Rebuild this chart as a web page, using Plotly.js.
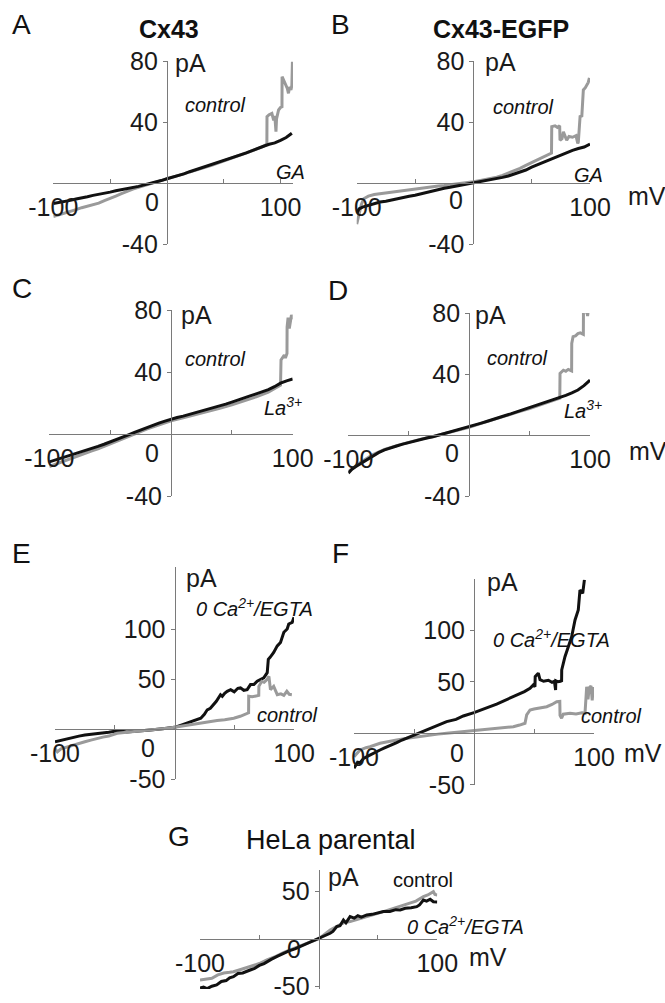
<!DOCTYPE html>
<html><head><meta charset="utf-8">
<script src="https://cdn.plot.ly/plotly-3.0.1.min.js"></script>
<style>html,body{margin:0;padding:0;background:#fff}#chart{width:665px;height:1003px}</style>
</head><body><div id="chart"></div>
<script>
// ---------- DATA (mV, pA) ----------
// Panel A: Cx43, control vs GA
const vA_ctrl=[-100,-95,-90,-85,-80,-75,-70,-65,-60,-55,-50,-45,-40,-35,-30,-25,-20,-15,-10,-5,0,10,20,30,40,50,60,70,80,85,88,88.1,90,92.4,94,95,96,96.5,98.3,100,101.3,101.4,103,104.2,106,107,108,109.2,110,110.5];
const iA_ctrl=[-22,-21,-20,-18.8,-17.5,-16.2,-15.3,-14.1,-13.2,-11.5,-10.2,-8.6,-7,-5.3,-4,-2.9,-1.8,-0.8,0.3,1.3,2.6,4.6,7,9.4,11.8,14.4,16.8,19.5,22.5,24,25.5,43.5,44.8,45.7,41,44,33.6,42,47.9,49.5,50,69.7,67,65.4,62,58.8,63,61,64,79.5];
const vA_ga=[-100,-95,-90,-85,-80,-75,-70,-65,-60,-55,-50,-45,-40,-35,-30,-25,-20,-15,-10,-5,0,5,10,15,20,25,30,35,40,45,50,55,60,65,70,75,80,85,90,95,100,105,110];
const iA_ga=[-13.5,-12.9,-12,-11.4,-10.5,-9.9,-9,-8.1,-7.5,-6.6,-6,-5.1,-4.5,-3.6,-3,-2.2,-1.2,-0.4,0.5,1.6,2.8,3.8,5,6,7.4,8.6,9.8,11.2,12.1,13.6,14.8,16.2,17.1,18.6,19.8,21.2,22.9,24.1,25.4,26.3,28,29.8,32.6];
// Panel B: Cx43-EGFP, control vs GA
const vB_ctrl=[-100,-98,-96,-94,-90,-85,-80,-75,-70,-65,-60,-55,-50,-45,-40,-35,-30,-25,-20,-15,-10,-5,0,5,10,15,20,25,30,35,40,45,50,55,60,65,67,67.2,70,72,74,74.3,76,77.2,78,80,82,85,88,89.5,90,91.5,93,94.3,96,97.2,98.5,99.5];
const iB_ctrl=[-27,-20,-14,-10.3,-8.6,-7.5,-7,-6.2,-5.8,-5.2,-4.6,-4,-3.5,-3,-2.8,-2.3,-1.9,-1.6,-1.2,-0.8,-0.4,0.2,0.8,1.5,2.2,3,3.8,5,6.4,7.8,9.6,11.5,13.3,15,16.8,18.8,19.6,37,37.5,36.5,37.5,28,29,33.5,32,28,30.5,30,31,26,27,43.6,44,61,62.5,64,66,69];
const vB_ga=[-100,-98,-95,-90,-85,-80,-75,-70,-65,-60,-55,-50,-45,-40,-35,-30,-25,-20,-15,-10,-5,0,5,10,15,20,25,30,35,40,45,50,55,60,65,70,75,80,85,90,95,100];
const iB_ga=[-20,-17,-15.8,-14.6,-13.8,-12.5,-11.9,-11,-10.3,-9.6,-8.7,-8,-7,-5.9,-5,-4.3,-3.4,-2.8,-2.1,-1.7,-0.8,0,0.6,1.2,1.9,2.8,3.7,4.6,5.8,7.3,8.5,10.4,12,13.6,15.4,16.8,18.4,19.8,21.4,22.6,23.6,25.5];
// Panel C: Cx43, control vs La3+
const vC_ctrl=[-100,-95,-90,-85,-80,-75,-70,-65,-60,-50,-40,-30,-20,-10,0,10,20,30,40,50,60,70,80,85,90,90.4,92,93.1,94,95.3,95.4,96.2,97.2,98,99,100];
const iC_ctrl=[-21,-19.5,-18,-16.6,-15,-13.5,-12,-10.8,-9.5,-6.5,-3.5,0,3.2,6,8.5,10.5,12.4,14.3,16.5,18.8,21.3,24,27,29,31.5,47.7,50,51,49,52,69,75,68,73,76.8,74];
const vC_la=[-100,-95,-90,-85,-80,-75,-70,-65,-60,-55,-50,-45,-40,-35,-30,-25,-20,-15,-10,-5,0,5,10,15,20,25,30,35,40,45,50,55,60,65,70,75,80,85,90,95,100];
const iC_la=[-18,-16.8,-15.5,-14.2,-12.8,-11.6,-10.3,-9.2,-8,-6.6,-5.2,-3.8,-2.3,-0.6,1,2.6,4,5.6,7,8.3,9.6,10.6,11.5,12.6,13.5,14.5,15.6,16.8,18,19.3,20.6,21.8,23.2,24.6,25.9,27.2,28.6,30.5,32.8,34.3,35.5];
// Panel D: Cx43-EGFP, control vs La3+
const vD_ctrl=[-100,-90,-80,-70,-60,-50,-40,-30,-20,-10,0,10,20,30,40,50,60,70,75,75.2,78,80,82,84.8,84.9,86,88,90,92,94.5,94.6,96,97,98,99,99.5];
const iD_ctrl=[-24,-18,-13,-9.5,-7,-4.7,-2.7,-1,1,3,5,7.6,10.2,12.6,15,17.4,20,22.8,24.2,40.4,42.5,41.8,43,42,60,64.5,65,66.5,67,66,82,80,84,78,86,87.4];
const vD_la=[-100,-97,-94,-90,-85,-80,-75,-70,-65,-60,-55,-50,-45,-40,-35,-30,-25,-20,-15,-10,-5,0,5,10,15,20,25,30,35,40,45,50,55,60,65,70,75,80,85,90,95,98.6,100];
const iD_la=[-25,-22.5,-20.8,-18.8,-16.2,-13.6,-11.6,-9.8,-8.3,-7.2,-6,-4.9,-3.9,-2.9,-2,-1.1,0,0.9,1.9,2.9,4,5.2,6.4,7.8,9,10.4,11.6,12.8,14,15.3,16.5,17.8,19.1,20.4,21.8,23.2,24.6,26,27.6,29.5,32.4,35,36];
// Panel E: Cx43, control vs 0 Ca2+/EGTA
const vE_egta=[-100,-95,-90,-85,-80,-75,-70,-65,-60,-55,-50,-45,-40,-30,-20,-10,0,5,10,15,20,22,25,27.4,30,32.9,35,38.5,40,42,44.1,47,50,53,55.2,58,60.8,63.6,66.4,69.2,72,74.7,77.6,78.5,80,83,86,88.7,91.5,94.3,95.6,98.5,100];
const iE_egta=[-12.5,-11,-9.1,-8,-6.8,-5.8,-5.2,-4.5,-4,-3,-2,-1.8,-2.6,-1.8,-0.6,0.6,2,4,6,8,10.5,11.1,15,19.5,21,24.5,28,34.6,33,36,38,39.7,37.5,41,41.4,39,39.7,44.7,44.7,48,49.8,51.5,56.6,70,72,76.8,83.4,86.9,97,100.3,105.3,107,112];
const vE_ctrl=[-100,-98,-95,-90,-85,-80,-75,-70,-65,-60,-55,-48,-40,-34,-27,-20,-13,-6,0,10,21.8,30,35.7,42,49.6,55,60.8,62,62.1,65,69,70.5,70.6,73,75,77.6,79,80.3,83,86,89,91.5,94,96,98.2];
const iE_ctrl=[-19.2,-22.6,-19.5,-17.6,-15.8,-14,-12.5,-10.8,-9,-7.8,-6.8,-4,-3,-2.4,-1.5,-0.6,0,1,2,4,6,7.5,8.7,9.6,11.1,13,16.2,16.5,33,32.5,33.5,34,43,48,47,50,53,39.7,43,34.6,35.5,34,38,35,34.6];
// Panel F: Cx43-EGFP, control vs 0 Ca2+/EGTA
const vF_ctrl=[-100,-95,-90,-86.7,-78.3,-70,-64.4,-57,-50.6,-43,-36.7,-30,-22.8,-10,0,10,18.9,25,32.8,38,42.5,43.9,46.7,50,55,60.6,65,68.9,71.5,71.7,73,74.4,80,85,90,92.5,93.9,95,96,97.5,98.5,99.4];
const iF_ctrl=[-22.7,-16.2,-14,-13,-9.7,-7.5,-6.5,-5,-3.9,-2.8,-1.6,-0.8,0,1.5,3.2,4,4.8,5.6,6.4,8,9.7,17.8,22.6,23.5,24.5,25.8,28,30.7,31,17.4,14.6,18.5,19.4,18.8,20,19.4,45.2,33,44,46,32,45];
const vF_egta=[-100,-97,-95,-92,-88,-85,-82,-78.3,-75,-70,-64.4,-60,-55,-50.6,-45,-40,-36.7,-30,-22.8,-15,-8.9,0,5,10,13.3,18.9,25,32.8,38,42,46.7,49.4,50.8,51,52.2,53.6,55,58,62,65,67,68,68.2,70,72,73,73.1,75.8,78.6,81.4,84.2,86.9,88.3,90.6,92];
const iF_egta=[-34,-28,-28.5,-24.3,-22,-20,-18.5,-16.2,-14.5,-12.3,-9.1,-6.5,-4.2,-1.6,0.8,3,4.8,7.6,11.3,13.5,16.8,20,22,24.2,25.8,28.4,31.6,34.9,38,40.5,43.7,46.9,45.2,55,56.5,58.3,52,50.5,51.5,49.5,50.5,42,51,50,50.5,51,61.5,74.4,84,93.8,110,119.7,139,136,149];
// Panel G: HeLa parental, control vs 0 Ca2+/EGTA
const vG_ctrl=[-100,-95,-90,-85,-80,-75,-71.8,-65,-57.7,-50,-43.6,-36,-29.7,-22,-15.6,-8,0,9.7,15,20.9,26.5,33,40.6,47,54.6,60,65.9,71,77.1,82,88.3,92,96.7,98,100];
const iG_ctrl=[-43.3,-42,-41.5,-38,-36,-35.2,-34.6,-32,-29.3,-26,-22.2,-18.5,-14.5,-10.5,-7.4,-3.6,0,9.5,13,17,18.3,21,23.6,26,28.9,31,33.5,35,37.7,40,44.7,46.5,50,47,46.5];
const vG_egta=[-100,-97,-94,-90,-86,-82,-78,-75,-71.8,-68,-64,-60,-57.7,-54,-50,-46,-43.6,-40,-35,-29.7,-25,-20,-15.6,-10,-5,0,5,9.7,12,15.3,18,20.9,23,26.5,30,33,36,40.6,45,50,54.6,60,65,68.7,73,78,82.7,85,88.3,91,94,96.7,100];
const iG_egta=[-52,-51,-52.5,-50,-48.6,-45,-44,-41,-39.8,-36.5,-36,-33.5,-32.8,-31,-28,-26,-24,-21.6,-18.5,-15.1,-12.6,-10.5,-8.1,-5.2,-2.6,0,2.8,6,8,13,14,20,17,23.6,22,24.5,23,25.4,26,27.5,28.9,29,31,30.7,32.5,33,34.1,36,41.2,40,42,39.4,39];

// Tick labels
const xTickVals=[-100,100];
const xTickText=['-100','100'];
const xMinorVals=[-50,50];
const yTicksAD=[80,40,-40];
const yTicksEF=[100,50,-50];
const yTicksG=[50,-50];

// ---------- LAYOUT ----------
const W=665,H=1003;
const GRAY='#9a9a9a', BLACK='#111111', AX='#7a7a7a';
const FONT='Liberation Sans, Arial, Helvetica, sans-serif';

const panels=[
 {xPx:[53.3,293],yPx:[61,244],xr:[-100,111],yr:[-40,80],yt:yTicksAD,tr:[[vA_ctrl,iA_ctrl,GRAY],[vA_ga,iA_ga,BLACK]],z:[-15,19],pa:[6,2],mv:null},
 {xPx:[356.7,590],yPx:[61,244],xr:[-100,100],yr:[-40,80],yt:yTicksAD,tr:[[vB_ctrl,iB_ctrl,GRAY],[vB_ga,iB_ga,BLACK]],z:[-17,17],pa:[10,1],mv:[36,13]},
 {xPx:[49.3,292.7],yPx:[310,496],xr:[-100,100],yr:[-40,80],yt:yTicksAD,tr:[[vC_ctrl,iC_ctrl,GRAY],[vC_la,iC_la,BLACK]],z:[-19,19],pa:[8,5],mv:null},
 {xPx:[348.3,590],yPx:[313,496],xr:[-100,100],yr:[-40,80],yt:yTicksAD,tr:[[vD_ctrl,iD_ctrl,GRAY],[vD_la,iD_la,BLACK]],z:[-17,18],pa:[4,2],mv:[37,16]},
 {xPx:[55,294],yPx:[566.7,779.3],xr:[-100,100],yr:[-50,162.6],yt:yTicksEF,tr:[[vE_egta,iE_egta,BLACK],[vE_ctrl,iE_ctrl,GRAY]],z:[-27,19],pa:[9,11],mv:null},
 {xPx:[354,594],yPx:[579.3,784.8],xr:[-100,100],yr:[-50,149.5],yt:yTicksEF,tr:[[vF_ctrl,iF_ctrl,GRAY],[vF_egta,iF_egta,BLACK]],z:[-17,20],pa:[11,3],mv:[28,20]},
 {xPx:[200,437.3],yPx:[870,989],xr:[-100,100],yr:[-52.9,72.9],yt:yTicksG,tr:[[vG_ctrl,iG_ctrl,GRAY],[vG_egta,iG_egta,BLACK]],z:[-25,10],pa:[7,7],mv:[30,18]}
];

const data=[], layout={width:W,height:H,margin:{l:0,r:0,t:0,b:0},paper_bgcolor:'#fff',plot_bgcolor:'rgba(0,0,0,0)',showlegend:false,font:{family:FONT,color:'#111'},annotations:[]};
const tickFont={family:FONT,size:25,color:'#1a1a1a'};

panels.forEach((p,k)=>{
  const n=k===0?'':String(k+1);
  const xd=[p.xPx[0]/W,p.xPx[1]/W];
  const yd=[1-p.yPx[1]/H,1-p.yPx[0]/H];
  const xpos=xd[0]+(0-p.xr[0])/(p.xr[1]-p.xr[0])*(xd[1]-xd[0]);
  const ypos=yd[0]+(0-p.yr[0])/(p.yr[1]-p.yr[0])*(yd[1]-yd[0]);
  layout['xaxis'+n]={domain:xd,range:p.xr,anchor:'free',position:ypos,showline:true,linecolor:AX,linewidth:1,
    showgrid:false,zeroline:false,ticks:'inside',ticklen:4,tickcolor:AX,tickvals:xTickVals,ticktext:xTickText,
    minor:{tickvals:xMinorVals,ticks:'inside',ticklen:4,tickcolor:AX,showgrid:false},
    tickfont:tickFont,ticklabelstandoff:2,fixedrange:true};
  layout['yaxis'+n]={domain:yd,range:p.yr,anchor:'free',position:xpos,showline:true,linecolor:AX,linewidth:1,
    showgrid:false,zeroline:false,ticks:'outside',ticklen:4,tickcolor:AX,tickvals:p.yt,ticktext:p.yt.map(String),
    tickfont:tickFont,fixedrange:true};
  p.tr.forEach(t=>{
    data.push({x:t[0],y:t[1],xaxis:'x'+n,yaxis:'y'+n,type:'scatter',mode:'lines',line:{color:t[2],width:3},hoverinfo:'skip'});
  });
  layout.annotations.push({xref:'x'+n,yref:'y'+n,x:0,y:0,text:'0',showarrow:false,xanchor:'center',yanchor:'middle',
    xshift:p.z[0],yshift:-p.z[1],font:tickFont});
  layout.annotations.push({xref:'x'+n,yref:'y'+n,x:0,y:p.yr[1],text:'pA',showarrow:false,xanchor:'left',yanchor:'middle',
    xshift:p.pa[0],yshift:-p.pa[1],font:tickFont});
  if(p.mv){
    layout.annotations.push({xref:'x'+n,yref:'y'+n,x:p.xr[1],y:0,text:'mV',showarrow:false,xanchor:'left',yanchor:'middle',
      xshift:p.mv[0],yshift:-p.mv[1],font:tickFont});
  }
});

function txt(text,px,py,size,extra){
  layout.annotations.push(Object.assign({xref:'paper',yref:'paper',x:px/W,y:1-py/H,text:text,showarrow:false,
    xanchor:'center',yanchor:'middle',font:{family:FONT,size:size,color:'#111'}},extra||{}));
}
[['A',22,25],['B',340,25],['C',22,288],['D',338,290],['E',22,553],['F',340,553],['G',179,836]].forEach(a=>txt(a[0],a[1],a[2],28));
txt('<b>Cx43</b>',169,29,25);
txt('<b>Cx43-EGFP</b>',501,29,25);
txt('HeLa parental',331,840,27);
const it=s=>'<i>'+s+'</i>';
[[it('control'),215,105],[it('GA'),290,172],[it('control'),523,107],[it('GA'),588,175],
 [it('control'),215,359],[it('La<sup>3+</sup>'),283,407],[it('control'),517,358],[it('La<sup>3+</sup>'),583,409],
 [it('0 Ca<sup>2+</sup>/EGTA'),254,607],[it('control'),287,715],
 [it('0 Ca<sup>2+</sup>/EGTA'),551,638],[it('control'),611,716],
 ['control',423,880],[it('0 Ca<sup>2+</sup>/EGTA'),465,925]].forEach(a=>txt(a[0],a[1],a[2],20));

Plotly.newPlot('chart',data,layout,{displayModeBar:false,staticPlot:true});
</script></body></html>
